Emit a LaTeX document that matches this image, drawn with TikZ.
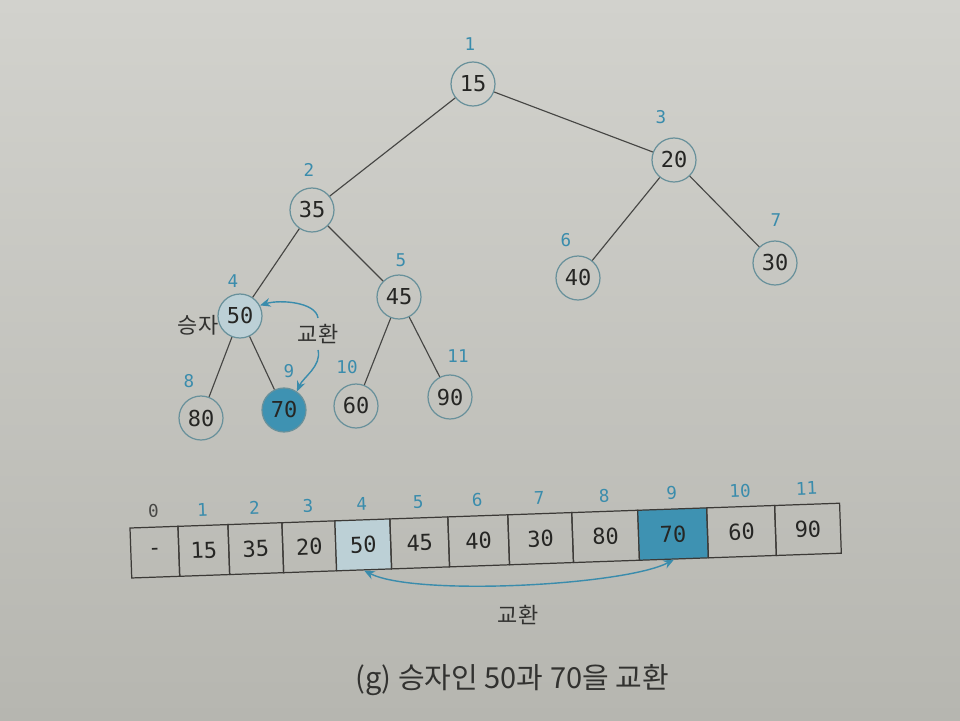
\documentclass[tikz,border=0pt]{standalone}
\usepackage{fontspec}
\setmainfont{Noto Sans CJK KR}
\newfontfamily\monof{DejaVu Sans Mono}
\usetikzlibrary{arrows.meta}
\definecolor{paperlight}{RGB}{210,210,205}
\definecolor{paperdark}{RGB}{182,182,176}
\definecolor{idxblue}{RGB}{58,140,172}
\definecolor{ringcol}{RGB}{105,145,155}
\definecolor{edgecol}{RGB}{70,70,68}
\definecolor{numcol}{RGB}{38,38,36}
\definecolor{winfill}{RGB}{188,208,214}
\definecolor{swapfill}{RGB}{62,146,178}
\definecolor{cellline}{RGB}{60,58,55}
\definecolor{capcol}{RGB}{50,50,48}
\begin{document}
\begin{tikzpicture}[x=0.02cm,y=-0.02cm,
  hnode/.style={circle,draw=ringcol,line width=0.7pt,minimum size=0.88cm,inner sep=0pt,
    font=\monof\fontsize{12.5}{14}\selectfont,text=numcol},
  idx/.style={font=\monof\fontsize{10}{12}\selectfont,text=idxblue},
  edge/.style={draw=edgecol,line width=0.65pt},
  cell/.style={draw=cellline,line width=0.7pt,minimum height=1cm,inner sep=0pt,
    font=\monof\fontsize{12.5}{14}\selectfont,text=numcol},
  plain/.style={},
  win/.style={fill=winfill},
  swp/.style={fill=swapfill},
  krlab/.style={font=\fontsize{12.5}{14}\selectfont,text=capcol},
  xarrow/.style={draw=idxblue,line width=0.8pt,-{Stealth[length=6pt,width=5pt]}},
  xarrowboth/.style={draw=idxblue,line width=0.8pt,{Stealth[length=6pt,width=5pt]}-{Stealth[length=6pt,width=5pt]}}]
\shade[top color=paperlight,bottom color=paperdark] (0,0) rectangle (960,720);
\useasboundingbox (0,0) rectangle (960,720);

% tree nodes
\node[hnode] (n1) at (473,84) {15};
\node[hnode] (n2) at (312,210) {35};
\node[hnode] (n3) at (674,160) {20};
\node[hnode,fill=winfill] (n4) at (240,316) {50};
\node[hnode] (n5) at (399,297) {45};
\node[hnode] (n6) at (578,278) {40};
\node[hnode] (n7) at (775,263) {30};
\node[hnode] (n8) at (201,418) {80};
\node[hnode,fill=swapfill] (n9) at (284,410) {70};
\node[hnode] (n10) at (356,406) {60};
\node[hnode] (n11) at (450,397) {90};

% tree index labels
\node[idx] (i1) at (470,44) {1};
\node[idx] (i2) at (309,170) {2};
\node[idx] (i3) at (661,117) {3};
\node[idx] (i4) at (233,281) {4};
\node[idx] (i5) at (401,260) {5};
\node[idx] (i6) at (566,240) {6};
\node[idx] (i7) at (776,220) {7};
\node[idx] (i8) at (189,381) {8};
\node[idx] (i9) at (289,371) {9};
\node[idx] (i10) at (347,367) {10};
\node[idx] (i11) at (458,356) {11};

% tree edges
\path[edge] (n1) -- (n2);
\path[edge] (n1) -- (n3);
\path[edge] (n2) -- (n4);
\path[edge] (n2) -- (n5);
\path[edge] (n3) -- (n6);
\path[edge] (n3) -- (n7);
\path[edge] (n4) -- (n8);
\path[edge] (n4) -- (n9);
\path[edge] (n5) -- (n10);
\path[edge] (n5) -- (n11);

% labels near winner
\node[krlab] (win) at (198,325) {승자};
\node[krlab] (sw1) at (318,334) {교환};
\draw[xarrow] (sw1.north) .. controls +(-2,-16) and +(20,-6) .. (n4.28);
\draw[xarrow] (sw1.south) .. controls +(4,16) and +(6,-14) .. (n9.55);

% array
\begin{scope}[rotate around={2:(130,528)},transform shape]
\foreach \a/\b/\v/\i/\st in {130/178/-/0/plain,178/228/15/1/plain,228/282/35/2/plain,282/335/20/3/plain,335/390/50/4/win,
  390/448/45/5/plain,448/508/40/6/plain,508/572/30/7/plain,572/638/80/8/plain,638/707/70/9/swp,707/775/60/10/plain,775/840/90/11/plain}{
  \node[cell,\st,minimum width={(\b-\a)*0.02cm}] (c\i) at ({(\a+\b)/2},553) {\v};
}
\node[idx,text=numcol!85] (a0) at (154,512) {0};
\foreach \a/\b/\i in {178/228/1,228/282/2,282/335/3,335/390/4,390/448/5,448/508/6,508/572/7,572/638/8,638/707/9,707/775/10,775/840/11}{
  \node[idx] (a\i) at ({(\a+\b)/2},512) {\i};
}
\end{scope}
\draw[xarrowboth] (c4.south) .. controls +(50,26) and +(-50,26) .. (c9.south);
\node[krlab] (sw2) at (518,615) {교환};

% caption
\node[font=\fontsize{16.5}{19}\selectfont,text=capcol] (cap) at (512,680) {(g) 승자인 50과 70을 교환};
\end{tikzpicture}
\end{document}
